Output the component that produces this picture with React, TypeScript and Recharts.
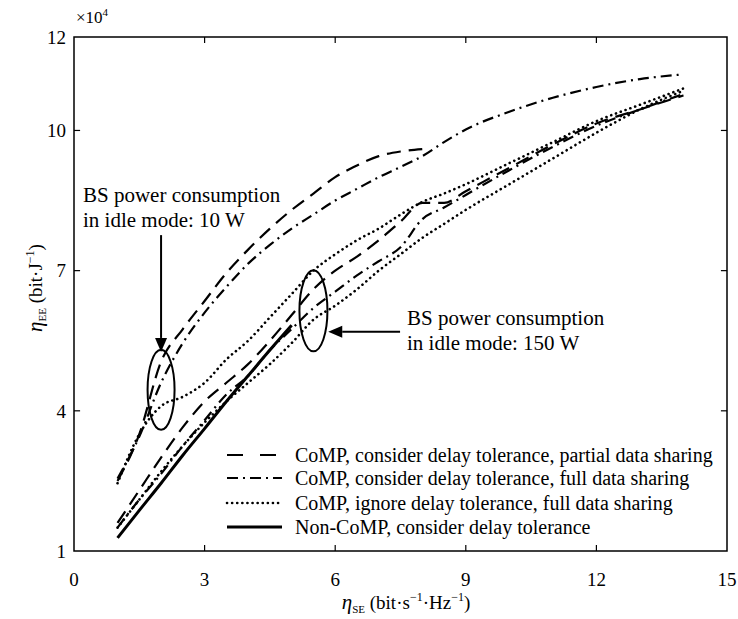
import React from 'react';
import {
  LineChart,
  Line,
  XAxis,
  YAxis,
  ReferenceArea,
  ReferenceLine,
} from 'recharts';

// spectral efficiency samples (bit/s/Hz)
const xs = [1, 1.5, 2, 2.5, 3, 3.5, 4, 4.5, 5, 5.5, 6, 6.5, 7, 7.5, 8, 8.5, 9, 10, 11, 12, 13, 14];

// energy efficiency (x10^4 bit/J), idle power 10 W
const partial10 = [2.5, 3.5, 5.05, 5.75, 6.35, 6.95, 7.45, 7.9, 8.3, 8.65, 9.0, 9.25, 9.45, 9.55, 9.6];
const full10 = [2.55, 3.45, 4.6, 5.45, 6.1, 6.65, 7.15, 7.55, 7.9, 8.2, 8.5, 8.75, 9.0, 9.22, 9.45, 9.75, 10.02, 10.4, 10.7, 10.93, 11.1, 11.2];
const ignore10 = [2.45, 3.5, 4.1, 4.3, 4.6, 5.1, 5.5, 6.0, 6.5, 7.0, 7.35, 7.65, 7.9, 8.2, 8.47, 8.65, 8.85, 9.3, 9.75, 10.2, 10.55, 10.9];

// idle power 150 W
const partial150 = [1.6, 2.3, 3.0, 3.65, 4.2, 4.6, 5.0, 5.5, 6.05, 6.6, 7.0, 7.3, 7.65, 8.05, 8.45, 8.45, 8.7, 9.2, 9.7, 10.15, 10.45, 10.75];
const full150 = [1.5, 2.1, 2.65, 3.25, 3.8, 4.35, 4.75, 5.3, 5.75, 6.2, 6.55, 6.9, 7.2, 7.5, 8.1, 8.35, 8.62, 9.15, 9.65, 10.1, 10.45, 10.78];
const ignore150 = [1.5, 2.1, 2.7, 3.25, 3.75, 4.2, 4.6, 5.0, 5.45, 5.95, 6.25, 6.6, 7.0, 7.35, 7.7, 8.0, 8.3, 8.85, 9.4, 9.95, 10.45, 10.85];
const nonComp = [1.28, 1.87, 2.45, 3.05, 3.62, 4.2, 4.75, 5.3, 5.83];

const xTicks = [0, 3, 6, 9, 12, 15];
const yTicks = [1, 4, 7, 10, 12];

const legendLabels = [
  'CoMP, consider delay tolerance, partial data sharing',
  'CoMP, consider delay tolerance, full data sharing',
  'CoMP, ignore delay tolerance, full data sharing',
  'Non-CoMP, consider delay tolerance',
];

const data = xs.map((x, i) => ({
  x,
  partial10: partial10[i],
  full10: full10[i],
  ignore10: ignore10[i],
  partial150: partial150[i],
  full150: full150[i],
  ignore150: ignore150[i],
  nonComp: nonComp[i],
}));

const W = 738;
const H = 619;
const margin = { top: 37, right: 11, bottom: 0, left: 0 };
const yAxisWidth = 74;
const xAxisHeight = 68;
const plot = {
  left: margin.left + yAxisWidth,
  right: W - margin.right,
  top: margin.top,
  bottom: H - margin.bottom - xAxisHeight,
};
const X_DOMAIN: [number, number] = [0, 15];
const Y_DOMAIN: [number, number] = [1, 12];

// same linear mapping the chart uses, for the annotations only
const px = (x: number) => plot.left + ((x - X_DOMAIN[0]) / (X_DOMAIN[1] - X_DOMAIN[0])) * (plot.right - plot.left);
const py = (y: number) => plot.bottom - ((y - Y_DOMAIN[0]) / (Y_DOMAIN[1] - Y_DOMAIN[0])) * (plot.bottom - plot.top);

const FONT = '"Liberation Serif", "Times New Roman", serif';

const styles = {
  dashed: { strokeDasharray: '14 8', strokeWidth: 2.2, strokeLinecap: 'butt' as const },
  dashDot: { strokeDasharray: '11 5 2 5', strokeWidth: 2.2, strokeLinecap: 'butt' as const },
  dotted: { strokeDasharray: '0.1 5', strokeWidth: 2.6, strokeLinecap: 'round' as const },
  solid: { strokeDasharray: undefined as string | undefined, strokeWidth: 3, strokeLinecap: 'butt' as const },
};
const legendStyles = [styles.dashed, styles.dashDot, styles.dotted, styles.solid];

const tickLenX = 0.14;
const tickLenY = 0.13;

const Arrow = ({ x1, y1, x2, y2 }: { x1: number; y1: number; x2: number; y2: number }) => {
  const a = Math.atan2(y2 - y1, x2 - x1);
  const len = 14;
  const half = 6;
  const bx = x2 - len * Math.cos(a);
  const by = y2 - len * Math.sin(a);
  const p1 = `${bx + half * Math.sin(a)},${by - half * Math.cos(a)}`;
  const p2 = `${bx - half * Math.sin(a)},${by + half * Math.cos(a)}`;
  return (
    <g>
      <line x1={x1} y1={y1} x2={bx} y2={by} stroke="#000" strokeWidth={2} />
      <polygon points={`${x2},${y2} ${p1} ${p2}`} fill="#000" />
    </g>
  );
};

export default function App() {
  return (
    <div style={{ position: 'absolute', left: 0, top: 0, width: W, height: H, background: '#fff' }}>
      <LineChart width={W} height={H} data={data} margin={margin}>
        <XAxis
          type="number"
          dataKey="x"
          domain={X_DOMAIN}
          ticks={xTicks}
          height={xAxisHeight}
          axisLine={false}
          tickLine={false}
          tickSize={8}
          tickMargin={14}
          tick={{ fill: '#000', fontSize: 19, fontFamily: FONT }}
          interval={0}
        />
        <YAxis
          type="number"
          domain={Y_DOMAIN}
          ticks={yTicks}
          width={yAxisWidth}
          axisLine={false}
          tickLine={false}
          tickSize={2}
          tickMargin={6}
          tick={{ fill: '#000', fontSize: 19, fontFamily: FONT }}
          interval={0}
        />
        <ReferenceArea x1={0} x2={15} y1={1} y2={12} fill="none" stroke="#000" strokeWidth={1.5} ifOverflow="visible" />
        {xTicks.slice(1, -1).map((t) => (
          <ReferenceLine key={`xb${t}`} segment={[{ x: t, y: 1 }, { x: t, y: 1 + tickLenY }]} stroke="#000" strokeWidth={1.2} />
        ))}
        {xTicks.slice(1, -1).map((t) => (
          <ReferenceLine key={`xt${t}`} segment={[{ x: t, y: 12 }, { x: t, y: 12 - tickLenY }]} stroke="#000" strokeWidth={1.2} />
        ))}
        {yTicks.slice(1, -1).map((t) => (
          <ReferenceLine key={`yl${t}`} segment={[{ x: 0, y: t }, { x: tickLenX, y: t }]} stroke="#000" strokeWidth={1.2} />
        ))}
        {yTicks.slice(1, -1).map((t) => (
          <ReferenceLine key={`yr${t}`} segment={[{ x: 15, y: t }, { x: 15 - tickLenX, y: t }]} stroke="#000" strokeWidth={1.2} />
        ))}

        <Line type="monotone" dataKey="partial10" stroke="#000" {...styles.dashed} dot={false} isAnimationActive={false} />
        <Line type="monotone" dataKey="full10" stroke="#000" {...styles.dashDot} dot={false} isAnimationActive={false} />
        <Line type="monotone" dataKey="ignore10" stroke="#000" {...styles.dotted} dot={false} isAnimationActive={false} />
        <Line type="monotone" dataKey="partial150" stroke="#000" {...styles.dashed} dot={false} isAnimationActive={false} />
        <Line type="monotone" dataKey="full150" stroke="#000" {...styles.dashDot} dot={false} isAnimationActive={false} />
        <Line type="monotone" dataKey="ignore150" stroke="#000" {...styles.dotted} dot={false} isAnimationActive={false} />
        <Line type="monotone" dataKey="nonComp" stroke="#000" {...styles.solid} dot={false} isAnimationActive={false} />
      </LineChart>

      <svg
        width={W}
        height={H}
        style={{ position: 'absolute', left: 0, top: 0, pointerEvents: 'none' }}
        fontFamily={FONT}
      >
        {/* exponent */}
        <text x={76} y={23} fontSize={17} fill="#000">
          ×10<tspan fontSize={11} dy={-7}>4</tspan>
        </text>

        {/* axis titles */}
        <text x={406} y={609} fontSize={19} fill="#000" textAnchor="middle">
          <tspan fontStyle="italic" fontSize={21}>η</tspan>
          <tspan fontSize={11} dy={4}>SE</tspan>
          <tspan dy={-4}> (bit·s</tspan>
          <tspan fontSize={12} dy={-8}>−1</tspan>
          <tspan dy={8}>·Hz</tspan>
          <tspan fontSize={12} dy={-8}>−1</tspan>
          <tspan dy={8}>)</tspan>
        </text>
        <text x={0} y={0} fontSize={19} fill="#000" textAnchor="middle" transform="translate(42 288) rotate(-90)">
          <tspan fontStyle="italic" fontSize={21}>η</tspan>
          <tspan fontSize={11} dy={4}>EE</tspan>
          <tspan dy={-4}> (bit·J</tspan>
          <tspan fontSize={12} dy={-8}>−1</tspan>
          <tspan dy={8}>)</tspan>
        </text>

        {/* 10 W annotation */}
        <text x={83} y={202} fontSize={21} fill="#000">BS power consumption</text>
        <text x={83} y={227} fontSize={21} fill="#000">in idle mode: 10 W</text>
        <Arrow x1={px(2)} y1={py(7.76)} x2={px(2)} y2={py(5.26)} />
        <ellipse cx={px(2)} cy={py(4.45)} rx={13.5} ry={40} fill="none" stroke="#000" strokeWidth={2} />

        {/* 150 W annotation */}
        <text x={407} y={325} fontSize={21} fill="#000">BS power consumption</text>
        <text x={407} y={350} fontSize={21} fill="#000">in idle mode: 150 W</text>
        <Arrow x1={px(7.49)} y1={py(5.69)} x2={px(5.84)} y2={py(5.69)} />
        <ellipse cx={px(5.5)} cy={py(6.14)} rx={14} ry={40.5} fill="none" stroke="#000" strokeWidth={2} />

        {/* legend */}
        {legendLabels.map((label, i) => {
          const cy = [455, 478, 503, 527][i];
          const s = legendStyles[i];
          return (
            <g key={label}>
              <line
                x1={227}
                x2={282}
                y1={cy}
                y2={cy}
                stroke="#000"
                strokeWidth={s.strokeWidth}
                strokeDasharray={i === 0 ? '16 17' : s.strokeDasharray}
                strokeLinecap={s.strokeLinecap}
              />
              <text x={295} y={cy + 7} fontSize={20} fill="#000">{label}</text>
            </g>
          );
        })}
      </svg>
    </div>
  );
}
